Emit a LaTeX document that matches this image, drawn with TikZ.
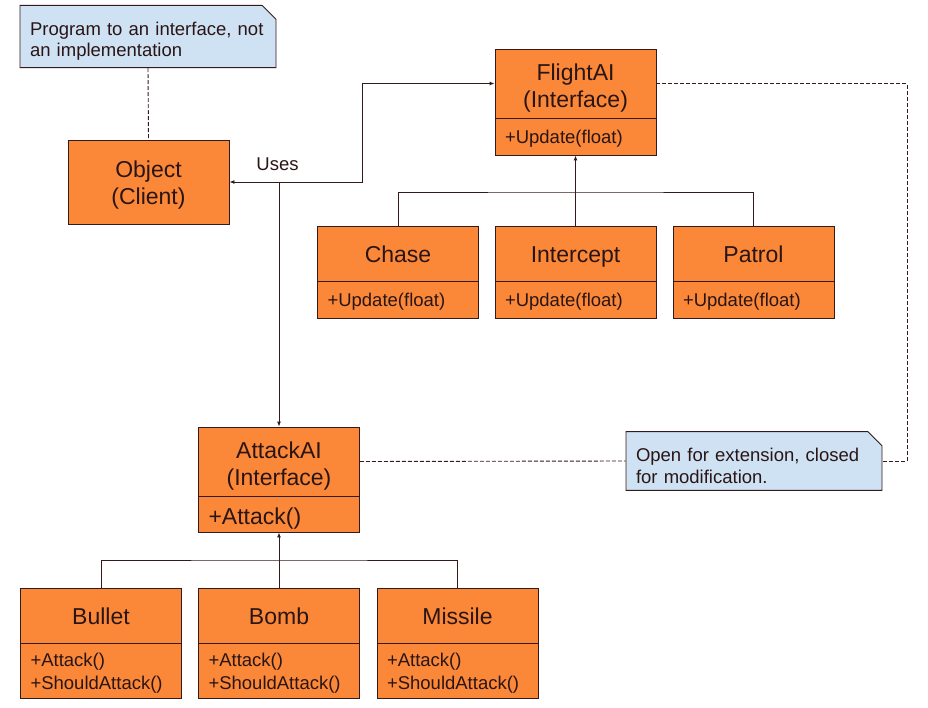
\documentclass[tikz,border=0pt]{standalone}
\usepackage{fontspec}
\setmainfont{Liberation Sans}
\usetikzlibrary{arrows.meta,shapes.misc}
\definecolor{orng}{RGB}{250,136,56}
\definecolor{linec}{RGB}{52,26,26}
\definecolor{memoblue}{RGB}{207,226,243}
\tikzset{
  lift/.style={execute at begin node={\rule{0pt}{#1}}},
  clstitle/.style={draw=linec, fill=orng, line width=0.9pt, text width=161pt, inner sep=0pt, align=center, text=linec!80!black, font=\fontsize{23}{27}\selectfont},
  onetitle/.style={clstitle, text height=21.5pt, text depth=4pt},
  clsbody/.style={draw=linec, fill=orng, line width=0.9pt, text width=141pt, inner xsep=10pt, inner ysep=0pt, align=left, text=linec!80!black, font=\fontsize{18.5}{23}\selectfont},
  onebody/.style={clsbody, text height=18pt, text depth=4pt},
  memo/.style={draw=linec, fill=memoblue, line width=0.9pt, chamfered rectangle, chamfered rectangle corners=north east, chamfered rectangle sep=7pt, text width=236pt, inner xsep=3pt, inner ysep=0pt, minimum height=55pt, align=left, text=linec!80!black, font=\fontsize{18.5}{21.5}\selectfont, lift=23pt},
  link/.style={draw=linec, line width=0.9pt},
  arr/.style={link, -{Latex[length=5pt,width=4pt]}},
  dashlink/.style={link, dash pattern=on 4pt off 2pt}
}
\begin{document}
\begin{tikzpicture}[x=1pt,y=-1pt]
\useasboundingbox (0,0) rectangle (928,708);
% notes
\node[memo] (memo1) at (148,36.5){Program to an interface, not\\an implementation};
\node[memo] (memo2) at (754,461){Open for extension, closed\\for modification.};
% client
\node[clstitle, lift=22pt, minimum height=84pt] (obj) at (148.5,182){Object\\(Client)};
% flight side
\node[clstitle, lift=25pt, minimum height=69pt] (flightT) at (575.5,83.5){FlightAI\\(Interface)};
\node[onebody, minimum height=37pt] (flightM) at (575.5,136.5){+Update(float)};
\node[onetitle, minimum height=55pt] (chaseT) at (398,253.5){Chase};
\node[onebody, minimum height=37pt] (chaseM) at (398,299.5){+Update(float)};
\node[onetitle, minimum height=55pt] (interT) at (575.5,253.5){Intercept};
\node[onebody, minimum height=37pt] (interM) at (575.5,299.5){+Update(float)};
\node[onetitle, minimum height=55pt] (patrolT) at (753.5,253.5){Patrol};
\node[onebody, minimum height=37pt] (patrolM) at (753.5,299.5){+Update(float)};
% attack side
\node[clstitle, lift=25pt, minimum height=69pt] (attackT) at (279,461.5){AttackAI\\(Interface)};
\node[clsbody, text height=24pt, text depth=4pt, minimum height=36pt, font=\fontsize{23}{27}\selectfont] (attackM) at (279,514){+Attack()};
\node[onetitle, minimum height=55pt] (bulletT) at (101,615.5){Bullet};
\node[clsbody, lift=19pt, minimum height=55pt] (bulletM) at (101,670.5){+Attack()\\+ShouldAttack()};
\node[onetitle, minimum height=55pt] (bombT) at (279,615.5){Bomb};
\node[clsbody, lift=19pt, minimum height=55pt] (bombM) at (279,670.5){+Attack()\\+ShouldAttack()};
\node[onetitle, minimum height=55pt] (missileT) at (457.5,615.5){Missile};
\node[clsbody, lift=19pt, minimum height=55pt] (missileM) at (457.5,670.5){+Attack()\\+ShouldAttack()};
% uses
\coordinate (hub) at (279,182);
\coordinate (bend) at (362,182);
\node[text=linec!80!black, font=\fontsize{18.5}{22}\selectfont] (uses) at (277.5,164){Uses};
\draw[arr] (hub) -- (obj.east);
\draw[arr] (hub) -- (attackT.north);
\draw[arr] (hub) -- (bend) |- (flightT.west);
% inheritance
\coordinate (fbar) at (575.5,192);
\draw[link] (chaseT.north) |- (fbar) -| (patrolT.north);
\draw[arr] (interT.north) -- (flightM.south);
\coordinate (abar) at (279,560);
\draw[link] (bulletT.north) |- (abar) -| (missileT.north);
\draw[arr] (bombT.north) -- (attackM.south);
% note links
\coordinate (rim) at (907,300);
\draw[dashlink] (memo1.south) -- (obj.north);
\draw[dashlink] (flightT.east) -| (rim) |- (memo2.east);
\draw[dashlink] (attackT.east) -- (memo2.west);
\end{tikzpicture}
\end{document}
